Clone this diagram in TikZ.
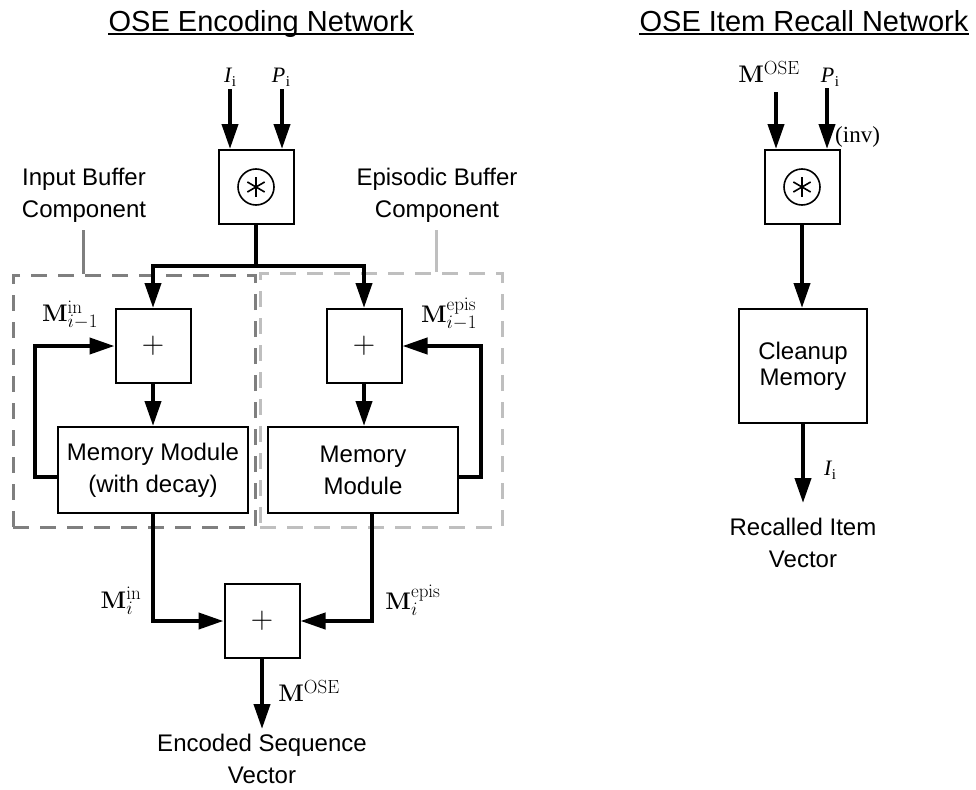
\RequirePackage{fix-cm}
\documentclass[tikz,border=0pt]{standalone}
\usepackage[no-math]{fontspec}
\setmainfont{Liberation Sans}
\newfontfamily\serif{Liberation Serif}
\usetikzlibrary{arrows.meta}
\definecolor{inbufgray}{HTML}{7F7F7F}
\definecolor{epbufgray}{HTML}{BFBFBF}
% larger scripts for the matrix labels
\DeclareMathSizes{24}{24}{19}{15}

% italic vector symbol with an upright subscript
\newcommand{\vsym}[2]{{\itshape #1}\kern0.5pt\raisebox{-4pt}{\fontsize{15}{15}\selectfont #2}}

\begin{document}
\begin{tikzpicture}[x=1pt,y=-1pt,
  txt/.style={font=\fontsize{24}{32}\selectfont, align=center, inner sep=0pt},
  title/.style={font=\fontsize{29}{34}\selectfont, inner sep=0pt, anchor=base},
  opbox/.style={draw, line width=2pt, minimum width=75pt, minimum height=74pt, inner sep=0pt},
  membox/.style={draw, line width=2pt, minimum width=190pt, minimum height=86pt,
                 align=center, font=\fontsize{24}{32}\selectfont, inner sep=0pt},
  flow/.style={line width=4pt, -{Triangle[length=25pt,width=16pt]}},
  bus/.style={line width=4pt},
  mlab/.style={font=\fontsize{24}{24}\selectfont, inner sep=1pt},
  vlab/.style={font=\serif\fontsize{22}{22}\selectfont, inner sep=1pt},
  group/.style={draw, line width=3pt, dash pattern=on 16pt off 11pt, inner sep=0pt},
  plus/.style={font=\fontsize{31}{31}\selectfont},
]
\useasboundingbox (0,0) rectangle (976,789);

% ---------------- titles ----------------
\node[title] (t1) at (261,32) {OSE Encoding Network};
\draw[line width=2pt] ([yshift=-2.2pt]t1.base west) -- ([yshift=-2.2pt]t1.base east);
\node[title] (t2) at (804,32) {OSE Item Recall Network};
\draw[line width=2pt] ([yshift=-2.2pt]t2.base west) -- ([yshift=-2.2pt]t2.base east);

% ---------------- encoding network ----------------
% buffer groups
\node[group, draw=inbufgray, minimum width=242pt, minimum height=252pt] (inbuf) at (134,401) {};
\node[group, draw=epbufgray, minimum width=242pt, minimum height=254pt] (epbuf) at (381,400) {};
\node[txt] (inlab) at (84,195) {Input Buffer\\Component};
\node[txt] (eplab) at (437,195) {Episodic Buffer\\Component};
\draw[inbufgray, line width=3pt] ([xshift=-1pt,yshift=-8pt]inlab.south) -- ([xshift=-1pt]inlab.south |- inbuf.north);
\draw[epbufgray, line width=3pt] ([xshift=-1pt,yshift=-8pt]eplab.south) -- ([xshift=-1pt]eplab.south |- epbuf.north);

% inputs and binding
\node[vlab] (Ii) at (230,77) {\vsym{I}{i}};
\node[vlab] (Pi) at (281,77) {\vsym{P}{i}};
\node[opbox] (conv) at (256,187) {};
\draw[line width=1.6pt] (conv.center) circle (18pt);
\foreach \a in {90,30,150}
  \draw[line width=1.6pt] (conv.center) ++(\a:10pt) -- ++(\a+180:20pt);
\draw[flow] ([xshift=-26pt,yshift=-2pt]conv.north |- Ii.south) -- ([xshift=-26pt]conv.north);
\draw[flow] ([xshift=26pt,yshift=-2pt]conv.north |- Pi.south) -- ([xshift=26pt]conv.north);

% adders and memory modules
\node[opbox, plus] (plusL) at (153,346) {$+$};
\node[opbox, plus] (plusR) at (364,346) {$+$};
\node[membox] (memL) at (153,470) {Memory Module\\(with decay)};
\node[membox] (memR) at (363,470) {Memory\\Module};

\path (conv.south) ++(0,41) coordinate (split);
\draw[bus] (conv.south) -- (split);
\draw[flow] (split) -| (plusL.north);
\draw[flow] (split) -| (plusR.north);
\draw[flow] (plusL) -- (memL);
\draw[flow] (plusR) -- (plusR |- memR.north);

% recurrent loops
\draw[flow] ([yshift=-7pt]memL.west) -- ++(-22,0) |- (plusL.west);
\draw[flow] ([yshift=-7pt]memR.east) -- ++(22,0) |- (plusR.east);
\node[mlab] (mInPrev) at (70,315) {$\mathbf{M}^{\mathrm{in}}_{i-1}$};
\node[mlab] (mEpPrev) at (449,314) {$\mathbf{M}^{\mathrm{epis}}_{i-1}$};

% combining the two buffers
\node[opbox, plus] (sumB) at (262,621) {$+$};
\draw[flow] (memL.south) |- (sumB.west);
\draw[flow] ([xshift=9pt]memR.south) |- (sumB.east);
\node[mlab] (mIn) at (121,601) {$\mathbf{M}^{\mathrm{in}}_{i}$};
\node[mlab] (mEp) at (413,600) {$\mathbf{M}^{\mathrm{epis}}_{i}$};

\node[txt, inner ysep=5pt, anchor=north] (enc) at (262,729) {Encoded Sequence\\Vector};
\draw[flow] (sumB.south) -- (enc.north);
\node[mlab] (mOse) at (309,691) {$\mathbf{M}^{\mathrm{OSE}}$};

% ---------------- item recall network ----------------
\node[mlab] (mOse2) at (769,72) {$\mathbf{M}^{\mathrm{OSE}}$};
\node[vlab] (Pi2) at (830,77) {\vsym{P}{i}};
\node[opbox] (rconv) at (802,187) {};
\draw[line width=1.6pt] (rconv.center) circle (18pt);
\foreach \a in {90,30,150}
  \draw[line width=1.6pt] (rconv.center) ++(\a:10pt) -- ++(\a+180:20pt);
\draw[flow] ([xshift=-26pt,yshift=-8pt]rconv.north |- mOse2.south) -- ([xshift=-26pt]rconv.north);
\draw[flow] ([xshift=25pt,yshift=-1pt]rconv.north |- Pi2.south) -- ([xshift=25pt]rconv.north);
\node[vlab, anchor=west, font=\serif\fontsize{23}{23}\selectfont] (inv) at (834,137) {(inv)};

\node[draw, line width=2pt, minimum width=128pt, minimum height=114pt, align=center,
      inner sep=0pt, font=\fontsize{24}{26}\selectfont] (clean) at (803,366) {Cleanup\\Memory};
\draw[flow] (rconv.south) -- (rconv.south |- clean.north);

\node[txt, inner ysep=14.5pt, anchor=north] (rec) at (803,503) {Recalled Item\\Vector};
\draw[flow] (clean.south) -- (rec.north);
\node[vlab] (Ii2) at (830,470) {\vsym{I}{i}};
\end{tikzpicture}
\end{document}
